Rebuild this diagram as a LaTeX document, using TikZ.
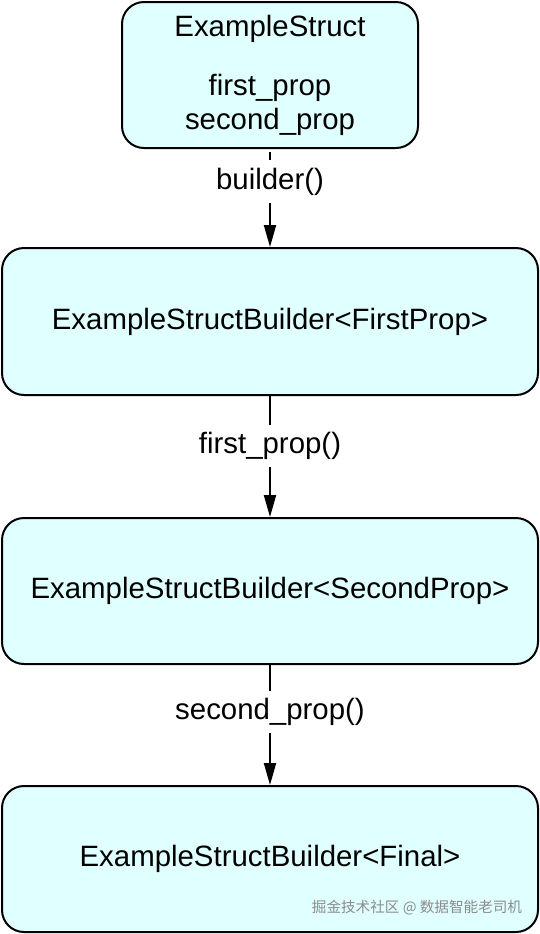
\documentclass[tikz,border=0pt]{standalone}
\usepackage{fontspec}
\setmainfont{Liberation Sans}
\newfontfamily\cjkfont{Noto Sans CJK SC}
\usetikzlibrary{arrows.meta}
\definecolor{boxfill}{RGB}{224,255,255}
\tikzset{
  structbox/.style={
    % The shape:
    rectangle,
    rounded corners=11pt,
    % The size:
    minimum height=73pt,
    inner sep=0pt,
    % The border:
    line width=1pt,
    draw=black,
    % The filling:
    fill=boxfill,
    font=\fontsize{14.7}{17}\selectfont},
  method/.style={
    % The shape:
    rectangle,
    minimum height=20pt,
    inner sep=0pt,
    % The rest
    font=\fontsize{14.7}{17}\selectfont},
  stub/.style={dash pattern=on 0pt off 1.5pt on 4pt off 20pt}
}

\begin{document}
\begin{tikzpicture}[x=0.5pt,y=-0.5pt,line width=1pt,
                    tip/.style={-{Triangle[length=11pt,width=6pt]}}]
  \useasboundingbox (0,0) rectangle (540,934);

  \node (struct) [structbox,minimum width=148pt,align=center] at (270,75)
        {ExampleStruct\\[12.5pt]first\_prop\\second\_prop};
  \node (first)  [structbox,minimum width=268pt,minimum height=73.5pt] at (270,321.5)
        {ExampleStructBuilder<FirstProp>};
  \node (second) [structbox,minimum width=268pt] at (270,591)
        {ExampleStructBuilder<SecondProp>};
  \node (final)  [structbox,minimum width=268pt] at (270,859)
        {ExampleStructBuilder<Final>};

  \node (builder)   [method] at (270,182)   {builder()};
  \node (setfirst)  [method] at (270,446)   {first\_prop()};
  \node (setsecond) [method] at (270,711.5) {second\_prop()};

  \draw[stub] (struct) -- (builder);
  \draw[tip]  (builder) -- (first);
  \draw       (first) -- (setfirst);
  \draw[tip]  (setfirst) -- (second);
  \draw       (second) -- (setsecond);
  \draw[tip]  (setsecond) -- (final);

  \node (mark) [text=black!45,font=\cjkfont\fontsize{7.3}{9}\selectfont] at (417,908)
        {掘金技术社区 @ 数据智能老司机};
\end{tikzpicture}
\end{document}
